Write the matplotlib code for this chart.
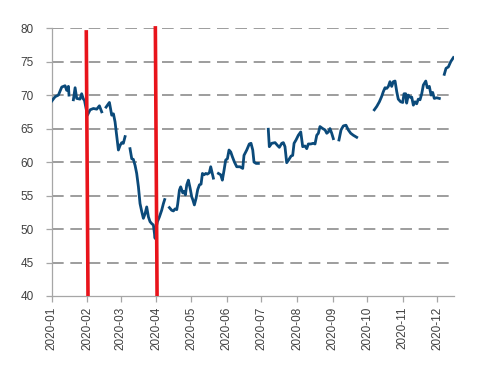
import numpy as np
import pandas as pd
from matplotlib import pyplot as plt
import matplotlib.dates as mdates

nan = np.nan

# days after 2020-01-01, nan value marks a break in the line
days = [0, 2.9, 5.8, 8.7, 11.6, 13, 14.5, 15, 17,
        18.8, 20.3, 21.7, 24.6, 26, 27.5, 28.4, 31, 33.3, 36.2, 39.1, 41.4, 43.4, 45,
        47.2, 50.1, 52.1, 53.6, 55, 56.5, 57.9, 59.4, 60.8, 62.2, 63.7, 66,
        68, 69.5, 70.9, 72.4, 73.8, 75.3, 76.7, 78.2, 79.6, 81.1, 82.5, 84, 85.4,
        86.9, 88.3, 89.8, 90.3, 91.8, 93.5, 95.5, 97, 98.1, 100,
        102.2, 104.2, 105.7, 107.1, 108.6, 109.4, 110.9, 112, 113.8, 114.9, 116.1,
        117.3, 118.7, 120.2, 121.6, 122.5, 123.9, 125.4, 126.8, 128.3, 129.7,
        130.9, 132.3, 133.8, 135.2, 136.9, 138.1, 139.5, 140.4, 142,
        144.8, 146.8, 148.2, 149.7, 151.1, 152.6, 154, 155.5, 156.9, 158.7,
        160.7, 163.5, 165.9, 167, 169.4, 171.6, 173.1, 174.6, 175.7, 177.5, 179.5, 184,
        188.1, 189, 191.1, 194, 196, 197.7, 199.8, 201.2, 202.6, 204.1, 206.1,
        207.9, 209.3, 210.5, 212.2, 214.2, 216.3, 218, 220, 221.5, 222.9, 225,
        227.2, 228.7, 230.2, 231.6, 233, 235.4, 237.4, 238.9, 240.3, 241.7,
        243.2, 244.6, 247,
        249.5, 251.3, 253.3, 255.6, 257.6, 259.7, 262, 264.9, 272,
        280.2, 282.3, 284.6, 286.6, 288, 289.5, 291, 292.4, 293.8, 295.3, 296.7,
        298.2, 299.7, 301, 303.1, 304.9, 306, 307.5, 308.3, 309.7, 311.2, 312.7,
        314.1, 315.6, 317, 318.4, 319.9, 321.4, 322.8, 324.9, 326.2, 328, 329.5,
        330.9, 332.3, 334.4, 336.7, 339,
        341, 342.5, 344.5, 346.6, 348.9]

values = [69.1, 69.75, 70.0, 71.2, 71.4, 70.7, 71.3, 70.0, nan,
          69.3, 71.1, 69.5, 69.4, 70.2, 69.4, 69.25, 67.0, 67.8, 68.0, 67.9, 68.4, 67.5, nan,
          68.2, 68.9, 67.0, 67.2, 66.0, 63.8, 61.8, 62.5, 62.9, 62.8, 63.8, nan,
          62.0, 60.5, 60.4, 59.5, 58.3, 56.3, 53.8, 52.6, 51.6, 52.3, 53.3, 51.8, 51.1,
          50.8, 50.6, 48.6, 49.9, 51.1, 51.8, 52.8, 53.8, 54.4, nan,
          53.2, 52.8, 52.7, 53.0, 52.9, 53.7, 55.8, 56.3, 55.4, 55.6, 55.1,
          56.6, 57.3, 56.1, 54.8, 54.4, 53.6, 54.6, 55.9, 56.6, 56.7,
          58.3, 58.1, 58.3, 58.2, 58.4, 59.3, 58.3, 57.6, nan,
          58.3, 58.1, 57.3, 58.8, 60.3, 60.5, 61.8, 61.5, 60.8, 60.0,
          59.3, 59.3, 59.05, 61.0, 61.8, 62.7, 62.8, 61.8, 60.0, 59.8, 59.8, nan,
          64.9, 62.3, 62.8, 62.9, 62.5, 62.2, 62.8, 62.9, 62.3, 59.9, 60.4,
          60.9, 61.0, 62.8, 63.3, 64.0, 64.5, 62.3, 62.4, 62.0, 62.7, 62.7,
          62.8, 62.7, 64.0, 64.3, 65.3, 65.0, 64.8, 64.3, 64.5, 65.0,
          64.3, 63.5, nan,
          63.3, 64.8, 65.4, 65.5, 64.8, 64.3, 64.0, 63.7, nan,
          67.8, 68.3, 69.0, 69.8, 70.5, 71.1, 71.0, 71.3, 72.0, 71.3, 72.0,
          72.1, 70.5, 69.4, 69.0, 68.9, 70.2, 70.2, 68.8, 70.0, 69.7, 69.7,
          68.5, 69.0, 68.7, 69.4, 69.3, 70.2, 71.5, 72.1, 71.1, 71.3, 70.0,
          70.4, 69.5, 69.6, 69.5, nan,
          73.1, 74.0, 74.2, 75.0, 75.6]

# red marker lines: dates and top values
mark_dates = ['2020-01-31', '2020-03-31']
mark_tops = [79.7, 80.3]

start = pd.Timestamp('2020-01-01')
dates = start + pd.to_timedelta(days, unit='D')

plt.rcParams['font.family'] = ['Liberation Sans', 'DejaVu Sans']

fig = plt.figure(figsize=(4.79, 3.70), dpi=100)
ax = fig.add_axes([0.108, 0.2, 0.84, 0.724])

grey = '#a6a6a6'
for y in range(45, 81, 5):
    ax.axhline(y, color='#8c8c8c', lw=1.2, dashes=(7, 4), zorder=1)

ax.plot(dates, values, color='#0b4a7a', lw=2.0, zorder=3)

for d, top in zip(mark_dates, mark_tops):
    t = pd.Timestamp(d)
    ax.plot([t, t + pd.Timedelta(days=1.5)], [top, 40], color='#e8141b', lw=2.6,
            zorder=4, clip_on=False, solid_capstyle='butt')

ax.set_ylim(40, 80)
ax.set_yticks(range(40, 81, 5))
ax.set_xlim(start, start + pd.Timedelta(days=349.5))
ax.xaxis.set_major_locator(mdates.MonthLocator())
ax.xaxis.set_major_formatter(mdates.DateFormatter('%Y-%m'))
plt.setp(ax.get_xticklabels(), rotation=90)

for s in ['top', 'right']:
    ax.spines[s].set_visible(False)
for s in ['left', 'bottom']:
    ax.spines[s].set_color(grey)
    ax.spines[s].set_linewidth(0.9)
ax.tick_params(axis='both', colors=grey, length=4, width=0.9, labelsize=8.5,
               labelcolor='#404040')
ax.tick_params(axis='y', pad=9)

fig.savefig('out.png', dpi=100)
